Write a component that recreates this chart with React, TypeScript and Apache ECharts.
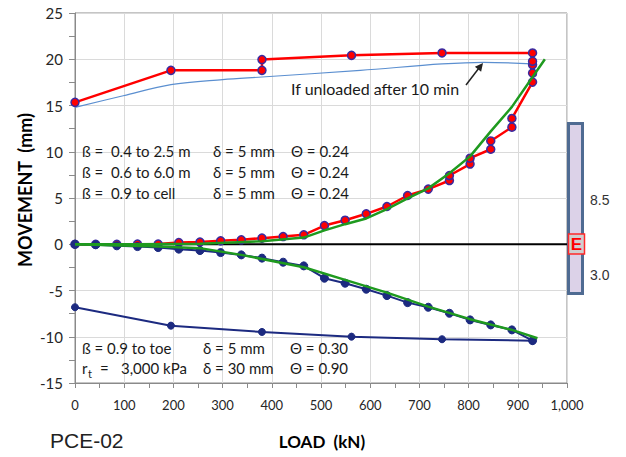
import React, { useEffect, useRef } from "react";
import * as echarts from "echarts";

// Upper plate (upward) movement, including the hold readings at each step
const upLoads = [0, 42, 85, 127, 169, 211, 254, 296, 338, 380, 423, 465, 507, 549, 592, 634, 676, 718, 761, 761, 803, 803, 845, 845, 888, 888, 930, 930, 930, 930];
const upMove = [0, 0, 0, 0.01, 0.02, 0.18, 0.23, 0.37, 0.48, 0.66, 0.83, 1.02, 2.02, 2.6, 3.29, 4.08, 5.27, 5.96, 6.89, 7.43, 8.67, 9.3, 10.27, 11.17, 12.66, 13.6, 17.53, 18.5, 19.4, 19.78];

// Lower plate (downward) movement
const downLoads = [0, 42, 85, 127, 169, 211, 254, 296, 338, 380, 423, 465, 507, 549, 592, 634, 676, 718, 761, 803, 845, 888, 930];
const downMove = [0, -0.06, -0.17, -0.25, -0.36, -0.53, -0.68, -0.9, -1.15, -1.5, -1.94, -2.34, -3.67, -4.21, -4.86, -5.55, -6.31, -6.81, -7.46, -8.18, -8.72, -9.26, -10.42];

// Pile head movement
const headLoads = [0, 195, 380, 380, 562, 746, 930];
const headMove = [15.34, 18.8, 18.8, 19.96, 20.42, 20.68, 20.68];

// Pile toe movement
const toeLoads = [0, 195, 380, 562, 746, 930];
const toeMove = [-6.81, -8.8, -9.48, -9.99, -10.27, -10.42];

// Head movement if unloaded after 10 min
const unloadLoads = [0, 98, 195, 300, 380, 580, 746, 830, 930];
const unloadMove = [14.8, 16.05, 17.25, 17.8, 18.08, 18.8, 19.49, 19.67, 19.5];

// Simulated (fitted) curves
const fitUpLoads = [0, 127, 254, 380, 465, 507, 549, 592, 634, 676, 718, 761, 803, 845, 888, 955];
const fitUpMove = [0, 0.01, 0.05, 0.32, 0.72, 1.5, 2.17, 2.79, 3.8, 4.95, 6.04, 7.67, 9.5, 12.2, 14.85, 20.0];
const fitDownLoads = [0, 170, 254, 338, 465, 549, 634, 718, 803, 888, 940];
const fitDownMove = [0, -0.25, -0.42, -1.15, -2.48, -3.85, -5.23, -6.74, -8.1, -9.26, -10.16];

const zeroLine = [[0, 0], [1000, 0]];

const pairs = (xs: number[], ys: number[]) => xs.map((x, i) => [x, ys[i]]);

const RED = "#ff0000";
const NAVY = "#1c2a80";
const GREEN = "#1f9a1f";
const LIGHTBLUE = "#5b8fd0";
const MARK_EDGE = "#3a2aa0";
const TXT = "15px Lato";

function txt(text: string, x: number, y: number, extra: any = {}) {
  return {
    type: "text",
    x,
    y,
    style: {
      text,
      font: TXT,
      fill: "#1a1a1a",
      textAlign: "left",
      textVerticalAlign: "middle",
      align: "left",
      verticalAlign: "middle",
      ...extra,
    },
    z: 100,
  };
}

export default function App() {
  const ref = useRef<HTMLDivElement>(null);

  useEffect(() => {
    if (!ref.current) return;
    const chart = echarts.init(ref.current, undefined, { renderer: "svg" });
    const axisGrey = "#8a8a8a";
    const option: any = {
      animation: false,
      grid: {
        left: 75,
        right: 59,
        top: 13,
        bottom: 74,
        show: true,
        borderColor: axisGrey,
        borderWidth: 1,
      },
      xAxis: {
        type: "value",
        min: 0,
        max: 1000,
        interval: 100,
        axisLine: { show: true, onZero: false, lineStyle: { color: axisGrey } },
        axisTick: { show: true, length: 5, lineStyle: { color: axisGrey } },
        minorTick: { show: true, splitNumber: 2, length: 5, lineStyle: { color: axisGrey } },
        splitLine: { show: true, lineStyle: { color: "#dadada" } },
        minorSplitLine: { show: false },
        axisLabel: {
          margin: 15,
          fontSize: 13,
          fontFamily: "Lato",
          color: "#262626",
          formatter: (v: number) => v.toLocaleString("en-US"),
        },
      },
      yAxis: {
        type: "value",
        min: -15,
        max: 25,
        interval: 5,
        axisLine: { show: true, onZero: false, lineStyle: { color: axisGrey } },
        axisTick: { show: true, length: 6, lineStyle: { color: axisGrey } },
        minorTick: { show: true, splitNumber: 2, length: 6, lineStyle: { color: axisGrey } },
        splitLine: { show: true, lineStyle: { color: "#dadada" } },
        axisLabel: { margin: 12, fontSize: 15, fontFamily: "Lato", color: "#262626" },
      },
      series: [
        {
          name: "zero",
          type: "line",
          data: zeroLine,
          symbol: "none",
          lineStyle: { color: "#000", width: 2 },
          z: 1,
        },
        {
          name: "unloaded",
          type: "line",
          data: pairs(unloadLoads, unloadMove),
          symbol: "none",
          smooth: 0.35,
          lineStyle: { color: LIGHTBLUE, width: 1.2 },
          z: 2,
        },
        {
          name: "head",
          type: "line",
          data: pairs(headLoads, headMove),
          symbol: "circle",
          symbolSize: 8,
          itemStyle: { color: RED, borderColor: MARK_EDGE, borderWidth: 1.5 },
          lineStyle: { color: RED, width: 2.5 },
          z: 3,
        },
        {
          name: "up",
          type: "line",
          data: pairs(upLoads, upMove),
          symbol: "circle",
          symbolSize: 8,
          itemStyle: { color: RED, borderColor: MARK_EDGE, borderWidth: 1.5 },
          lineStyle: { color: RED, width: 2.5 },
          z: 3,
        },
        {
          name: "down",
          type: "line",
          data: pairs(downLoads, downMove),
          symbol: "circle",
          symbolSize: 8,
          itemStyle: { color: NAVY, borderColor: NAVY, borderWidth: 1 },
          lineStyle: { color: NAVY, width: 2 },
          z: 4,
        },
        {
          name: "toe",
          type: "line",
          data: pairs(toeLoads, toeMove),
          symbol: "circle",
          symbolSize: 7,
          itemStyle: { color: NAVY, borderColor: NAVY, borderWidth: 1 },
          lineStyle: { color: NAVY, width: 2 },
          z: 4,
        },
        {
          name: "fitUp",
          type: "line",
          data: pairs(fitUpLoads, fitUpMove),
          symbol: "none",
          lineStyle: { color: GREEN, width: 2.5 },
          z: 5,
        },
        {
          name: "fitDown",
          type: "line",
          data: pairs(fitDownLoads, fitDownMove),
          symbol: "none",
          lineStyle: { color: GREEN, width: 2.5 },
          z: 5,
        },
      ],
      graphic: [
        // axis titles
        {
          type: "text",
          x: 25,
          y: 190,
          rotation: Math.PI / 2,
          style: {
            text: "MOVEMENT  (mm)",
            font: "bold 18px Lato",
            fill: "#000",
            textAlign: "center",
            textVerticalAlign: "middle",
            align: "center",
            verticalAlign: "middle",
          },
        },
        {
          type: "text",
          x: 322,
          y: 441,
          style: {
            text: "LOAD  (kN)",
            font: "bold 17px Lato",
            fill: "#000",
            textAlign: "center",
            textVerticalAlign: "middle",
            align: "center",
            verticalAlign: "middle",
          },
        },
        txt("PCE-02", 50, 440, { font: "21px 'Liberation Sans'", fill: "#222" }),
        // parameter notes
        txt("ß =  0.4 to 2.5 m", 82, 151),
        txt("δ = 5 mm", 213, 151),
        txt("Θ = 0.24", 291, 151),
        txt("ß =  0.6 to 6.0 m", 82, 172),
        txt("δ = 5 mm", 213, 172),
        txt("Θ = 0.24", 291, 172),
        txt("ß =  0.9 to cell", 82, 193),
        txt("δ = 5 mm", 213, 193),
        txt("Θ = 0.24", 291, 193),
        txt("ß = 0.9 to toe", 82, 348),
        txt("δ = 5 mm", 203, 348),
        txt("Θ = 0.30", 290, 348),
        txt("r", 82, 368),
        txt("t", 88, 373, { font: "11px Lato" }),
        txt("=", 100, 368),
        txt("3,000 kPa", 121, 368),
        txt("δ = 30 mm", 203, 368),
        txt("Θ = 0.90", 290, 368),
        txt("If unloaded after 10 min", 291, 88, { font: "16px Lato" }),
        // arrow to the unloading curve
        {
          type: "line",
          shape: { x1: 466, y1: 85, x2: 479, y2: 68 },
          style: { stroke: "#222", lineWidth: 1.5 },
          z: 100,
        },
        {
          type: "polygon",
          shape: { points: [[483, 63], [481.1, 71.8], [474.9, 66.8]] },
          style: { fill: "#222" },
          z: 100,
        },
        // pile schematic with the cell location
        {
          type: "rect",
          shape: { x: 568.5, y: 123.5, width: 14, height: 170 },
          style: { fill: "#dcd2e8", stroke: "#4f6b92", lineWidth: 3 },
          z: 100,
        },
        {
          type: "rect",
          shape: { x: 568.5, y: 234, width: 16, height: 20 },
          style: { fill: "#cfcfcf", stroke: "#ff2a2a", lineWidth: 1.5 },
          z: 101,
        },
        {
          type: "text",
          x: 576.5,
          y: 244.5,
          style: {
            text: "E",
            font: "bold 17px 'Liberation Sans'",
            fill: "#ff0000",
            textAlign: "center",
            textVerticalAlign: "middle",
            align: "center",
            verticalAlign: "middle",
          },
          z: 102,
        },
        txt("8.5", 590, 200, { font: "14px 'Liberation Sans'", fill: "#333" }),
        txt("3.0", 590, 275, { font: "14px 'Liberation Sans'", fill: "#333" }),
      ],
    };
    chart.setOption(option);
    return () => chart.dispose();
  }, []);

  return (
    <div
      ref={ref}
      style={{ position: "fixed", left: 0, top: 0, width: 626, height: 457, background: "#fff" }}
    />
  );
}
